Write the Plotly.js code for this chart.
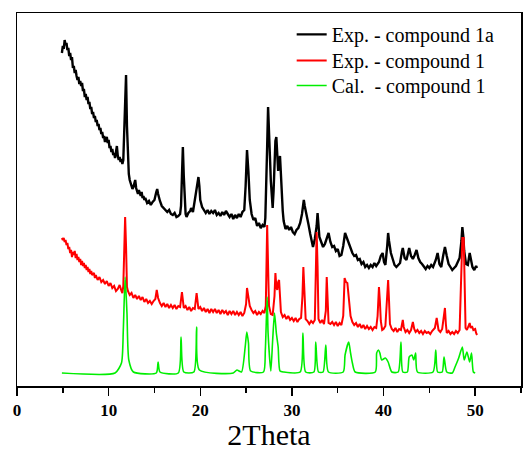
<!DOCTYPE html>
<html>
<head>
<meta charset="utf-8">
<script src="https://cdn.plot.ly/plotly-3.0.1.min.js"></script>
<style>
html,body{margin:0;padding:0;background:#fff;}
#chart{width:528px;height:451px;}
</style>
</head>
<body>
<div id="chart"></div>
<script>
// Exp. - compound 1a (black): [2theta, intensity (a.u.)]
const blackPts = [
[4.9,333],[5.0,340],[5.1,337],[5.2,346],[5.3,341],[5.4,343],[5.5,336],[5.6,338],[5.7,330],[5.8,333],[5.9,326],[6.0,329],[6.1,318],[6.2,320],[6.3,313],[6.4,316],[6.5,310],[6.6,306],[6.7,309],[6.8,302],[6.9,305],[7.0,300],[7.1,303],[7.2,295],[7.3,297],[7.4,289],[7.5,292],[7.6,286],[7.7,289],[7.8,282],[7.9,284],[8.0,277],[8.1,279],[8.2,272],[8.3,274],[8.4,268],[8.5,270],[8.6,264],[8.7,266],[8.8,260],[8.9,262],[9.0,256],[9.1,258],[9.2,252],[9.3,254],[9.4,248],[9.5,250],[9.6,244],[9.7,247],[9.8,249],[9.9,243],[10.0,246],[10.1,238],[10.2,240],[10.3,234],[10.4,237],[10.5,231],[10.6,233],[10.7,228],[10.8,236],[10.9,240],[11.0,230],[11.1,226],[11.2,229],[11.3,224],[11.4,227],[11.5,222],[11.6,226],[11.7,250],[11.8,290],[11.9,311],[12.0,260],[12.1,226],[12.2,212],[12.3,206],[12.4,203],[12.5,201],[12.6,197],[12.7,199],[12.8,204],[12.9,206],[13.0,198],[13.1,195],[13.2,192],[13.3,196],[13.4,193],[13.5,190],[13.6,194],[13.7,188],[13.8,190],[13.9,186],[14.0,188],[14.2,183],[14.4,185],[14.6,181],[14.8,184],[15.0,186],[15.2,194],[15.3,197],[15.4,192],[15.5,188],[15.6,185],[15.8,180],[16.0,178],
[16.2,176],[16.4,174],[16.6,176],[16.8,172],[17.0,171],[17.2,173],[17.4,169],[17.6,170],[17.8,172],[17.9,180],[18.0,210],[18.1,239],[18.2,210],[18.3,180],[18.4,172],[18.5,169],[18.7,173],[18.9,175],[19.0,178],[19.2,174],[19.4,186],[19.6,195],[19.8,209],[19.9,200],[20.0,186],[20.2,179],[20.4,176],[20.6,173],[20.8,176],[21.0,172],[21.2,175],[21.4,173],[21.6,176],[21.8,171],[22.0,173],[22.2,170],[22.4,174],[22.6,171],[22.8,175],[23.0,172],[23.2,169],[23.4,172],[23.6,167],[23.8,171],[24.0,168],[24.2,172],[24.4,169],[24.6,174],[24.8,176],[24.95,200],[25.1,236],[25.25,215],[25.4,186],[25.6,172],[25.8,166],[26.0,168],[26.2,160],[26.4,163],[26.6,158],[26.8,161],[27.0,159],[27.1,168],[27.2,195],[27.3,240],[27.4,279],[27.5,260],[27.6,230],[27.7,205],[27.8,185],[27.9,178],[28.0,195],[28.1,225],[28.2,245],[28.3,249],[28.4,225],[28.5,215],[28.6,225],[28.7,230],[28.8,212],[28.9,190],[29.0,175],[29.1,165],[29.3,157],[29.5,160],[29.7,156],[29.9,159],[30.1,154],[30.3,152],[30.5,156],[30.7,158],[30.9,163],[31.1,172],[31.3,186],[31.4,180],[31.5,176],[31.6,173],[31.8,162],[32.0,152],[32.2,143],[32.3,139],[32.5,147],[32.7,160],[32.8,173],[32.9,160],[33.0,149],[33.2,144],[33.4,139],[33.6,142],[33.8,148],[34.0,153],[34.2,144],[34.4,139],[34.6,140],[34.8,135],[35.0,137],[35.2,130],[35.4,131],[35.6,140],[35.8,153],[36.0,148],[36.2,143],[36.4,136],[36.6,133],[36.8,130],[37.0,131],[37.2,126],[37.4,127],[37.6,122],[37.8,124],[38.0,119],[38.2,121],[38.4,118],[38.6,121],[38.8,119],[39.0,123],[39.2,120],[39.5,124],[39.7,130],[39.9,133],[40.05,124],[40.2,121],[40.4,140],[40.5,153],[40.6,145],[40.8,133],[41.0,127],[41.2,121],[41.4,119],[41.6,121],[41.8,123],[42.0,134],[42.1,138],[42.3,128],[42.5,126],[42.7,134],[42.8,138],[43.0,130],[43.2,127],[43.4,131],[43.6,136],[43.8,128],[44.0,124],[44.2,122],[44.4,119],[44.6,117],[44.8,120],[45.0,118],[45.2,121],[45.4,119],[45.7,126],[45.9,133],[46.1,122],[46.3,119],[46.5,130],[46.7,139],[46.9,130],[47.1,122],[47.3,119],[47.5,116],[47.7,118],[47.9,120],[48.1,124],[48.3,128],[48.5,145],[48.6,159],[48.7,150],[48.8,135],[49.0,122],[49.2,121],[49.4,133],[49.5,128],[49.7,119],[49.9,116],[50.1,120],[50.2,118]
];

// Exp. - compound 1 (red)
const redPts = [
[4.9,148],[5.0,146],[5.1,148],[5.2,144],[5.3,146],[5.4,141],[5.5,143],[5.6,137],[5.7,139],[5.8,133],[5.9,136],[6.0,129],[6.1,134],[6.2,131],[6.3,135],[6.4,128],[6.5,132],[6.6,126],[6.7,129],[6.8,124],[6.9,127],[7.0,121],[7.1,125],[7.2,120],[7.3,123],[7.4,118],[7.5,121],[7.6,116],[7.7,119],[7.8,114],[7.9,117],[8.0,112],[8.1,115],[8.2,111],[8.4,113],[8.5,108],[8.6,111],[8.8,106],[9.0,109],[9.2,104],[9.4,106],[9.6,102],[9.8,105],[10.0,100],[10.2,103],[10.4,98],[10.6,100],[10.8,95],[11.0,97],[11.2,101],[11.4,95],[11.5,93],[11.6,100],[11.7,135],[11.8,169],[11.9,140],[12.0,99],[12.1,95],[12.3,91],[12.5,93],[12.7,88],[12.9,91],[13.1,87],[13.3,90],[13.5,86],[13.7,89],[13.9,84],[14.1,87],[14.3,83],[14.5,85],[14.7,82],[14.9,85],[15.1,87],[15.25,96],[15.4,88],[15.6,83],[15.8,80],[16.0,83],[16.2,79],[16.4,82],[16.6,78],[16.8,81],[17.0,78],[17.2,81],[17.4,77],[17.6,80],[17.8,79],[18.0,94],[18.1,85],[18.2,78],[18.4,80],[18.6,76],[18.8,79],[19.0,75],[19.2,78],[19.4,77],[19.6,93],[19.7,84],[19.8,77],[20.0,79],[20.2,75],[20.4,78],[20.6,74],[20.8,77],[21.0,73],[21.2,77],[21.4,74],[21.6,77],[21.8,73],[22.0,76],[22.2,72],[22.4,76],[22.6,73],[22.8,75],[23.0,71],[23.2,75],[23.4,72],[23.6,75],[23.8,71],[24.0,74],[24.2,71],[24.4,74],[24.6,70],[24.8,73],[25.0,82],[25.1,98],[25.2,90],[25.4,80],[25.6,76],[25.8,73],[26.0,75],[26.2,71],[26.4,74],[26.6,72],[26.8,75],[27.0,73],[27.15,80],[27.3,161],[27.4,120],[27.5,80],[27.7,72],[27.9,71],[28.1,90],[28.2,113],[28.3,100],[28.4,96],[28.5,104],[28.6,106],[28.7,90],[28.8,74],[29.0,69],[29.2,71],[29.4,67],[29.6,70],[29.8,66],[30.0,68],[30.2,65],[30.4,68],[30.6,64],[30.8,67],[31.0,68],[31.15,90],[31.25,119],[31.35,95],[31.5,67],[31.7,65],[31.9,62],[32.1,65],[32.3,63],[32.5,66],[32.6,100],[32.7,154],[32.8,120],[32.9,67],[33.1,63],[33.3,66],[33.5,62],[33.7,75],[33.8,109],[33.9,80],[34.0,63],[34.2,62],[34.4,64],[34.6,61],[34.8,64],[35.0,60],[35.2,63],[35.4,61],[35.6,70],[35.75,108],[35.9,104],[36.05,103],[36.2,85],[36.4,70],[36.6,64],[36.8,61],[37.0,63],[37.2,59],[37.4,62],[37.6,58],[37.8,61],[38.0,57],[38.2,60],[38.4,57],[38.6,59],[38.8,56],[39.0,59],[39.2,58],[39.35,70],[39.5,99],[39.6,85],[39.7,65],[39.85,56],[40.0,57],[40.2,60],[40.35,80],[40.5,106],[40.6,85],[40.7,62],[40.9,57],[41.1,55],[41.3,58],[41.5,54],[41.7,57],[41.9,56],[42.1,66],[42.2,59],[42.4,54],[42.6,56],[42.8,53],[43.0,56],[43.2,64],[43.35,57],[43.5,54],[43.7,56],[43.9,53],[44.1,55],[44.3,52],[44.5,55],[44.7,53],[44.9,54],[45.1,52],[45.3,55],[45.6,58],[45.8,68],[46.0,56],[46.2,54],[46.4,57],[46.6,70],[46.7,78],[46.8,62],[46.9,53],[47.1,55],[47.3,52],[47.5,54],[47.7,52],[47.9,55],[48.1,53],[48.3,56],[48.45,100],[48.6,148],[48.75,148],[48.85,100],[48.95,58],[49.1,56],[49.25,60],[49.4,63],[49.5,58],[49.65,60],[49.8,56],[50.0,57],[50.1,53],[50.2,51]
];

// Cal. - compound 1 (green)
const greenX = [4.9,10.7,11.4,11.6,11.8,12.0,12.2,12.7,15.2,15.4,15.6,17.6,17.9,18.2,19.3,19.6,19.9,23.6,24.0,24.5,24.9,25.08,25.26,25.5,26.9,27.1,27.3,27.4,27.7,27.9,28.1,28.3,28.5,28.7,29.1,30.9,31.2,31.5,32.4,32.6,32.9,33.4,33.7,33.99,35.6,35.8,36.2,36.4,36.6,36.9,39.1,39.25,39.45,39.6,39.8,40.2,40.5,40.9,41.6,41.9,42.1,42.6,42.8,43.1,43.3,43.5,43.7,45.4,45.7,45.9,46.4,46.6,46.9,47.5,47.8,48.2,48.6,48.8,49.1,49.4,49.6,49.8,50.0];
const greenY = [13,13,23,56,109,73,26,14,13,24,14,13,49,14,14,59,16,13,16,14,39,54,43,15,14,36,89,53,15,46,73,53,39,15,14,14,53,14,14,44,14,14,41,14,14,31,44,33,23,14,14,33,36,33,26,28,24,14,14,44,14,14,29,31,26,33,14,14,36,14,14,29,14,13,19,28,39,26,34,24,33,14,13];

const seriesNames = ["Exp. - compound 1a", "Exp. - compound 1", "Cal.  - compound 1"];
const xTickVals = [0,10,20,30,40,50];
const xTickText = ["0","10","20","30","40","50"];

const serif = 'Liberation Serif';
const legendFont = {family: serif, size: 20, color: '#000'};
function legendAt(yTop) {
  return {x: 0.545, y: yTop, xanchor: 'left', yanchor: 'top', bgcolor: 'rgba(0,0,0,0)', font: legendFont};
}

const traces = [
  {x: blackPts.map(p => p[0]), y: blackPts.map(p => p[1]), name: seriesNames[0], type: 'scatter', mode: 'lines', line: {color: '#000000', width: 2.4}, legend: 'legend'},
  {x: redPts.map(p => p[0]), y: redPts.map(p => p[1]), name: seriesNames[1], type: 'scatter', mode: 'lines', line: {color: '#ff0000', width: 2}, legend: 'legend2'},
  {x: greenX, y: greenY, name: seriesNames[2], type: 'scatter', mode: 'lines', line: {color: '#00ee00', width: 1.6, shape: 'spline', smoothing: 0.6}, legend: 'legend3'}
];

const layout = {
  width: 528, height: 451,
  margin: {l: 17, r: 7, t: 13, b: 65},
  paper_bgcolor: '#ffffff',
  plot_bgcolor: '#ffffff',
  showlegend: true,
  legend: legendAt(0.995),
  legend2: legendAt(0.925),
  legend3: legendAt(0.858),
  xaxis: {
    range: [0, 55],
    tickvals: xTickVals, ticktext: xTickText,
    ticks: 'outside', ticklen: 8, tickwidth: 1.5, tickcolor: '#000',
    minor: {dtick: 5, tick0: 5, ticks: 'outside', ticklen: 5, tickwidth: 1.5, tickcolor: '#000'},
    showline: true, linecolor: '#000', linewidth: 1.5, mirror: true,
    showgrid: false, zeroline: false,
    tickfont: {family: serif, size: 17, color: '#000', weight: 'bold'},
    automargin: false,
    title: {text: '2Theta', font: {family: serif, size: 30, color: '#000'}, standoff: 14}
  },
  yaxis: {
    range: [0, 373],
    showticklabels: false, ticks: '',
    showline: true, linecolor: '#000', linewidth: 1.5, mirror: true,
    showgrid: false, zeroline: false
  }
};

Plotly.newPlot('chart', traces, layout, {displayModeBar: false, staticPlot: true});
</script>
</body>
</html>
